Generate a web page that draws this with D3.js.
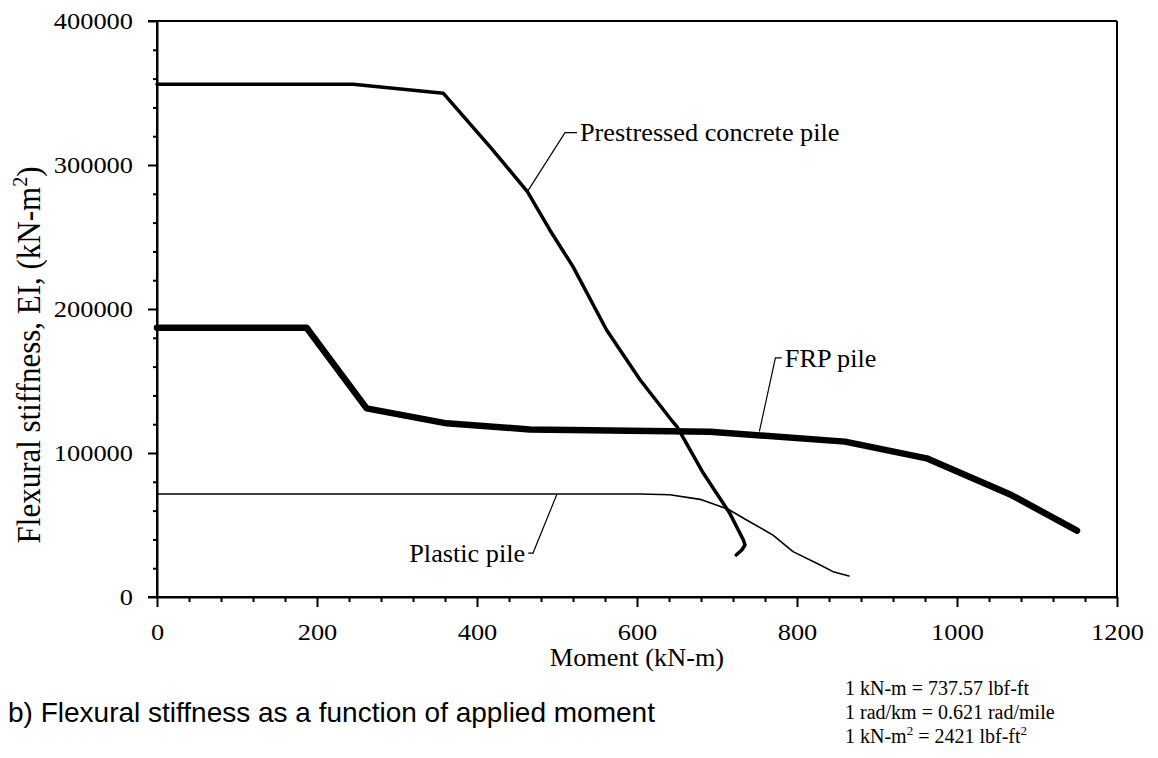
<!DOCTYPE html>
<html>
<head>
<meta charset="utf-8">
<script src="https://cdn.jsdelivr.net/npm/d3@7"></script>
<style>
  html, body { margin: 0; padding: 0; background: #fff; }
  svg { display: block; }
  .serif { font-family: "Liberation Serif", "Times New Roman", serif; }
  .sans { font-family: "Liberation Sans", Arial, sans-serif; }
</style>
</head>
<body>
<svg id="chart" width="1158" height="758"></svg>
<script>
// Moment (kN-m) vs flexural stiffness EI (kN-m^2) for three pile types
const prestressedMoment = [0, 245, 358, 418, 463, 491, 520, 562, 604, 643, 650, 683, 716, 733, 735, 731, 724];
const prestressedEI     = [356000, 356000, 349800, 311600, 281500, 254900, 229400, 185400, 150700, 122900, 118300, 85900, 58100, 39600, 36100, 32600, 29200];

const frpMoment = [0, 187, 262, 362, 466, 691, 860, 962, 1068, 1150];
const frpEI     = [187000, 187000, 131000, 120600, 116400, 114800, 107900, 96300, 70800, 46100];

const plasticMoment = [0, 604, 641, 679, 714, 737, 770, 795, 829, 845, 865];
const plasticEI     = [71500, 71500, 71000, 67800, 60900, 53500, 43000, 31500, 22200, 17600, 14600];

const xTicks = [0, 200, 400, 600, 800, 1000, 1200];
const yTicks = [0, 100000, 200000, 300000, 400000];

const seriesLabels = ["Prestressed concrete pile", "FRP pile", "Plastic pile"];
const caption = "b) Flexural stiffness as a function of applied moment";
const unitNotes = ["1 kN-m = 737.57 lbf-ft", "1 rad/km = 0.621 rad/mile"];

const svg = d3.select("#chart");
const plotLeft = 157, plotRight = 1117, plotTop = 21, plotBottom = 597;

const x = d3.scaleLinear().domain([0, 1200]).range([plotLeft, plotRight]);
const y = d3.scaleLinear().domain([0, 400000]).range([plotBottom, plotTop]);

// widen glyphs along the reading direction
function widen(sel, k) {
  sel.each(function () {
    const w = this.getComputedTextLength();
    this.setAttribute("textLength", w * k);
    this.setAttribute("lengthAdjust", "spacingAndGlyphs");
  });
}

// frame: top and right edges
svg.append("line").attr("x1", plotLeft - 9).attr("x2", plotRight).attr("y1", plotTop).attr("y2", plotTop)
  .attr("stroke", "#000").attr("stroke-width", 2);
svg.append("line").attr("x1", plotRight).attr("x2", plotRight).attr("y1", plotTop).attr("y2", plotBottom)
  .attr("stroke", "#000").attr("stroke-width", 2);

// minor ticks
const xMinor = d3.range(0, 1201, 40).filter(v => v % 200 !== 0);
const yMinor = d3.range(0, 400001, 20000).filter(v => v % 100000 !== 0);

const xAxis = svg.append("g").attr("transform", `translate(0,${plotBottom})`)
  .call(d3.axisBottom(x).tickValues(xTicks).tickFormat(d3.format("d")).tickSize(10).tickSizeOuter(0).tickPadding(16));
const xAxisMinor = svg.append("g").attr("transform", `translate(0,${plotBottom})`)
  .call(d3.axisBottom(x).tickValues(xMinor).tickFormat("").tickSize(5).tickSizeOuter(0));
const yAxis = svg.append("g").attr("transform", `translate(${plotLeft},0)`)
  .call(d3.axisLeft(y).tickValues(yTicks).tickFormat(d3.format("d")).tickSize(9).tickSizeOuter(0).tickPadding(15));
const yAxisMinor = svg.append("g").attr("transform", `translate(${plotLeft},0)`)
  .call(d3.axisLeft(y).tickValues(yMinor).tickFormat("").tickSize(4).tickSizeOuter(0));

[xAxis, xAxisMinor, yAxis, yAxisMinor].forEach(g => {
  g.select(".domain").attr("stroke", "#000").attr("stroke-width", 2);
  g.selectAll(".tick line").attr("stroke", "#000").attr("stroke-width", 2);
  g.selectAll("text").attr("class", "serif").attr("font-size", 24).attr("fill", "#000");
});
xAxis.select(".domain").attr("d", `M${plotLeft - 9},0H${plotRight}`);
yAxis.select(".domain").attr("d", `M0,${plotBottom}V${plotTop}`);
widen(xAxis.selectAll("text"), 1.1);
widen(yAxis.selectAll("text"), 1.1);

// axis titles
const xTitle = svg.append("text").attr("class", "serif").attr("x", (plotLeft + plotRight) / 2).attr("y", 666)
  .attr("text-anchor", "middle").attr("font-size", 25).text("Moment (kN-m)");
widen(xTitle, 1.05);

const yTitle = svg.append("text").attr("class", "serif")
  .attr("transform", `translate(40,355) rotate(-90) scale(1,1.08)`)
  .attr("text-anchor", "middle").attr("font-size", 31);
yTitle.append("tspan").text("Flexural stiffness, EI, (kN-m");
yTitle.append("tspan").attr("font-size", 20).attr("dy", -12).text("2");
yTitle.append("tspan").attr("dy", 12).text(")");

// curves
const line = d3.line().x(d => x(d[0])).y(d => y(d[1]));
const series = [
  { m: prestressedMoment, e: prestressedEI, w: 3.5 },
  { m: frpMoment, e: frpEI, w: 6.5 },
  { m: plasticMoment, e: plasticEI, w: 1.6 }
];
series.forEach(s => {
  svg.append("path").datum(d3.zip(s.m, s.e)).attr("d", line)
    .attr("fill", "none").attr("stroke", "#000").attr("stroke-width", s.w)
    .attr("stroke-linejoin", "round").attr("stroke-linecap", "round");
});

// leader lines and labels
const leaders = [
  { pts: [[463, 281500], [510, 322500], [525, 322500]], label: seriesLabels[0], anchor: "start", dx: 3 },
  { pts: [[753, 115000], [773, 166000], [781, 166000]], label: seriesLabels[1], anchor: "start", dx: 3 },
  { pts: [[500, 71500], [470, 30500], [464, 30500]], label: seriesLabels[2], anchor: "end", dx: -3 }
];
leaders.forEach(l => {
  svg.append("path").datum(l.pts).attr("d", line)
    .attr("fill", "none").attr("stroke", "#000").attr("stroke-width", 1.2);
  const end = l.pts[l.pts.length - 1];
  const t = svg.append("text").attr("class", "serif").attr("font-size", 25)
    .attr("x", x(end[0]) + l.dx).attr("y", y(end[1])).attr("dy", "0.35em")
    .attr("text-anchor", l.anchor).text(l.label);
  widen(t, 1.05);
});

// caption and unit conversions
svg.append("text").attr("class", "sans").attr("x", 8).attr("y", 722)
  .attr("font-size", 28).text(caption);

const notes = svg.append("g").attr("class", "serif").attr("font-size", 20);
unitNotes.forEach((t, i) => {
  notes.append("text").attr("x", 845).attr("y", 695 + i * 24).text(t);
});
const n3 = notes.append("text").attr("x", 845).attr("y", 743);
n3.append("tspan").text("1 kN-m");
n3.append("tspan").attr("font-size", 13).attr("dy", -8).text("2");
n3.append("tspan").attr("dy", 8).text(" = 2421 lbf-ft");
n3.append("tspan").attr("font-size", 13).attr("dy", -8).text("2");
</script>
</body>
</html>
